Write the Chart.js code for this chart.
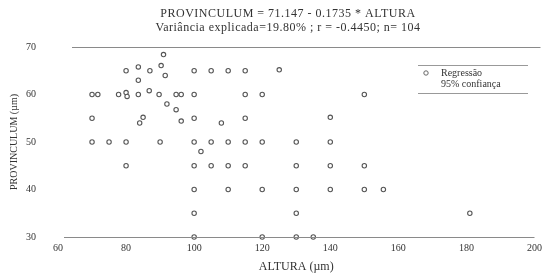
<!DOCTYPE html>
<html><head><meta charset="utf-8">
<script src="https://cdn.jsdelivr.net/npm/chart.js@4"></script>
<style>html,body{margin:0;padding:0;background:#fff}#c{display:block}</style>
</head><body>
<canvas id="c" width="547" height="274"></canvas>
<script>
const titleLines = ['PROVINCULUM = 71.147 - 0.1735 * ALTURA', 'Variância explicada=19.80% ; r = -0.4450; n= 104'];
const xTitle = 'ALTURA (µm)';
const yTitle = 'PROVINCULUM (µm)';
const legendLabels = ['Regressão', '95% confiança'];
const xTicks = [60, 80, 100, 120, 140, 160, 180, 200];
const yTicks = [30, 40, 50, 60, 70];

const altura = [
  80, 87, 100, 105, 110, 115, 125, 83.6, 90.3, 91.5, 91, 83.6,
  70, 71.7, 77.8, 80, 80.3, 83.6, 86.8, 89.7, 94.7, 96.2, 100, 115, 120, 150, 92, 94.7,
  70, 85, 84, 96.2, 100, 108, 115, 140,
  70, 75, 80, 90, 100, 105, 110, 115, 120, 130, 140, 102,
  80, 100, 105, 110, 115, 130, 140, 150,
  100, 110, 120, 130, 140, 150, 155.6,
  100, 130, 181,
  100, 120, 130, 135
];
const provinculum = [
  65, 65, 65, 65, 65, 65, 65.2, 65.8, 66.1, 64, 68.4, 63,
  60, 60, 60, 60.4, 59.6, 60, 60.8, 60, 60, 60, 60, 60, 60, 60, 58, 56.8,
  55, 55.2, 54, 54.4, 55, 54, 55, 55.2,
  50, 50, 50, 50, 50, 50, 50, 50, 50, 50, 50, 48,
  45, 45, 45, 45, 45, 45, 45, 45,
  40, 40, 40, 40, 40, 40, 40,
  35, 35, 35,
  30, 30, 30, 30
];

const points = altura.map((x, i) => ({x, y: provinculum[i]}));
const FONT = "'Liberation Serif', 'Times New Roman', serif";
const INK = '#333';

const decor = {
  id: 'decor',
  afterDraw(chart) {
    const ctx = chart.ctx;
    const a = chart.chartArea;
    ctx.save();
    ctx.strokeStyle = '#8a8a8a';
    ctx.lineWidth = 1;
    ctx.beginPath();
    ctx.moveTo(a.left + 14, a.top + 0.5); ctx.lineTo(a.right + 6, a.top + 0.5);
    ctx.moveTo(a.left + 6, a.bottom + 0.5); ctx.lineTo(a.right, a.bottom + 0.5);
    ctx.stroke();
    ctx.fillStyle = INK;
    ctx.textAlign = 'center';
    ctx.textBaseline = 'middle';
    ctx.font = '12px ' + FONT;
    ctx.letterSpacing = '0.5px';
    ctx.fillText(titleLines[0], 288, 14);
    ctx.fillText(titleLines[1], 288, 28);
    ctx.letterSpacing = '0px';
    const lx = 418, ly = 65;
    ctx.strokeStyle = '#999';
    ctx.beginPath();
    ctx.moveTo(lx, ly + 0.5); ctx.lineTo(lx + 110, ly + 0.5);
    ctx.moveTo(lx, ly + 28.5); ctx.lineTo(lx + 110, ly + 28.5);
    ctx.stroke();
    ctx.strokeStyle = '#666';
    ctx.fillStyle = '#fff';
    ctx.beginPath(); ctx.arc(lx + 8, ly + 8, 2.2, 0, Math.PI * 2); ctx.fill(); ctx.stroke();
    ctx.fillStyle = INK;
    ctx.textAlign = 'left';
    ctx.font = '10px ' + FONT;
    ctx.fillText(legendLabels[0], lx + 23, ly + 8);
    ctx.fillText(legendLabels[1], lx + 23, ly + 19);
    ctx.restore();
  }
};

new Chart(document.getElementById('c'), {
  type: 'scatter',
  data: {
    datasets: [{
      label: legendLabels[0],
      data: points,
      pointRadius: 2.2,
      pointBorderWidth: 1.1,
      pointBorderColor: '#555',
      pointBackgroundColor: '#fff',
      clip: false
    }]
  },
  options: {
    responsive: false,
    animation: false,
    layout: {padding: {top: 47, right: 9, left: 0, bottom: 0}},
    plugins: {legend: {display: false}, tooltip: {enabled: false}, title: {display: false}},
    scales: {
      x: {
        type: 'linear', min: 60, max: 200,
        afterBuildTicks: s => { s.ticks = xTicks.map(v => ({value: v})); },
        afterFit: s => { s.height = 37; },
        grid: {display: false, drawTicks: false},
        border: {display: false},
        ticks: {color: INK, font: {family: FONT, size: 10}, padding: 5, maxRotation: 0},
        title: {display: true, text: xTitle, color: INK, font: {family: FONT, size: 12}, padding: {top: 3, bottom: 0}}
      },
      y: {
        type: 'linear', min: 30, max: 70,
        afterBuildTicks: s => { s.ticks = yTicks.map(v => ({value: v})); },
        afterFit: s => { s.width = 58; },
        grid: {display: false, drawTicks: false},
        border: {display: false},
        ticks: {color: INK, font: {family: FONT, size: 10}, padding: 22},
        title: {display: true, text: yTitle, color: INK, font: {family: FONT, size: 10}, padding: {top: 8, bottom: 0}}
      }
    }
  },
  plugins: [decor]
});
</script>
</body></html>
